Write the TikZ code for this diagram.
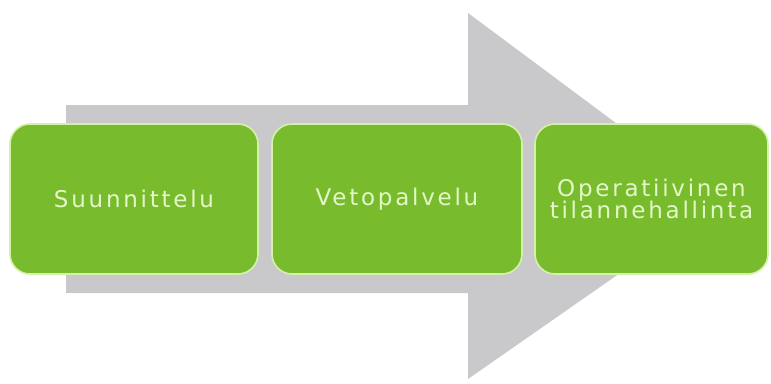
\documentclass[tikz,border=0pt]{standalone}
\usepackage{fontspec}
\setmainfont{DejaVu Sans}
\newfontfamily\boxfont[LetterSpace=12]{DejaVu Sans}
\definecolor{arrowgray}{HTML}{C9C9CB}
\definecolor{boxgreen}{HTML}{78BC2E}
\definecolor{boxedge}{HTML}{D6F0AC}
\definecolor{boxtext}{HTML}{E4F7C8}
\begin{document}
\begin{tikzpicture}[x=1pt,y=-1pt,
  stagebox/.style={draw=boxedge, line width=1.6pt, fill=boxgreen, rounded corners=20pt,
    minimum height=150pt, align=center, inner sep=0pt, text=boxtext,
    font=\boxfont\fontsize{23}{22.5}\selectfont}]
\useasboundingbox (0,0) rectangle (771,383);
\fill[white] (0,0) rectangle (771,383);
% big arrow
\fill[arrowgray] (66,105) -- (468,105) -- (468,13) -- (722,202) -- (468,379) -- (468,293) -- (66,293) -- cycle;
% stages
\node[stagebox, minimum width=248pt] (s1) at (134,199) {Suunnittelu};
\node[stagebox, minimum width=250pt] (s2) at (397,199) {Vetopalvelu};
\node[stagebox, minimum width=233pt] (s3) at (651.5,199) {Operatiivinen\\tilannehallinta};
\end{tikzpicture}
\end{document}
